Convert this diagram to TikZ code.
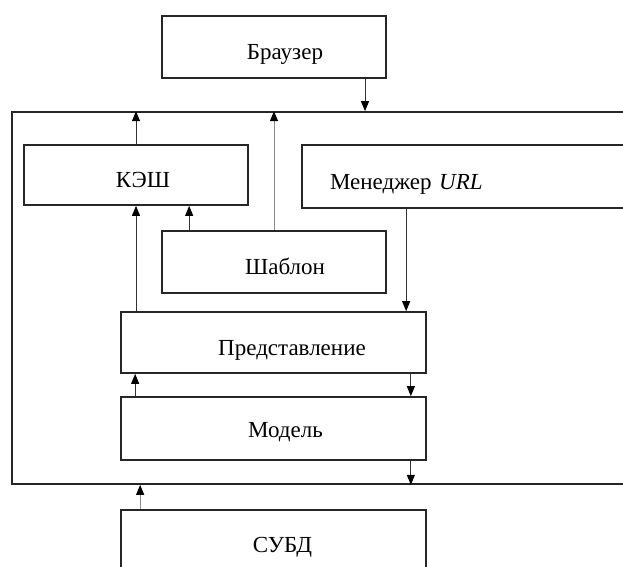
\documentclass[tikz,border=0pt]{standalone}
\usepackage{fontspec}
\setmainfont{Liberation Serif}
\usetikzlibrary{arrows.meta}
\begin{document}
\begin{tikzpicture}[x=1pt, y=-1pt,
            font=\fontsize{23}{27}\selectfont,
            box/.style = {draw=black!85, line width=1.7pt, fill=white,
                inner sep=0pt, text height=25pt, text depth=0pt},
            arr/.style = {draw=black!80, line width=1pt,
                -{Triangle[length=10pt,width=8pt,color=black]}},
            grayarr/.style = {arr, draw=black!45}]
  \clip (0,0) rectangle (623,566);
  \node[box, minimum width=628pt, minimum height=372pt] (app) at (326,298) {};
  \node[box, minimum width=224pt, minimum height=62pt] (browser) at (274,47) {\hspace*{22pt}Браузер};
  \node[box, minimum width=224pt, minimum height=60pt] (kesh) at (136,175) {\hspace*{14pt}КЭШ};
  \node[box, inner xsep=28pt, text width=292pt, align=left,
        minimum height=63pt] (urlman) at (476,176.5) {Менеджер \textit{URL}};
  \node[box, minimum width=224pt, minimum height=62pt] (shablon) at (274,262) {\hspace*{22pt}Шаблон};
  \node[box, minimum width=305pt, minimum height=61pt] (view) at (273.5,342.5) {\hspace*{37pt}Представление};
  \node[box, minimum width=305pt, minimum height=63pt, text height=18pt] (model) at (273.5,428.5) {\hspace*{24pt}Модель};
  \node[box, minimum width=305pt, minimum height=60pt] (dbms) at (273.5,540) {\hspace*{18pt}СУБД};
  \draw[arr] ([xshift=91pt]browser.south) -- ([xshift=91pt]browser.south |- app.north);
  \draw[arr] (kesh.north) -- (kesh.north |- app.north);
  \draw[grayarr] (shablon.north) -- (shablon.north |- app.north);
  \draw[arr] ([xshift=28pt]shablon.north west) -- ([xshift=28pt]shablon.north west |- kesh.south);
  \draw[arr] (kesh.south |- view.north) -- (kesh.south);
  \draw[arr] ([xshift=105pt]urlman.south west) -- ([xshift=105pt]urlman.south west |- view.north);
  \draw[arr] ([xshift=15pt]view.south west |- model.north) -- ([xshift=15pt]view.south west);
  \draw[arr] ([xshift=-16pt]view.south east) -- ([xshift=-16pt]view.south east |- model.north);
  \draw[arr] ([xshift=-16pt]model.south east) -- ([xshift=-16pt]model.south east |- app.south);
  \draw[grayarr] ([xshift=20pt]dbms.north west) -- ([xshift=20pt]dbms.north west |- app.south);
\end{tikzpicture}
\end{document}
